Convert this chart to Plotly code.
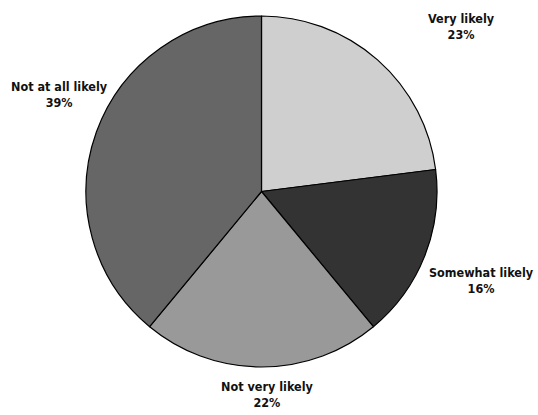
import plotly.graph_objects as go

# Survey responses (share of respondents)
categories = ["Very likely", "Somewhat likely", "Not very likely", "Not at all likely"]
shares = [23, 16, 22, 39]
slice_colors = ["#cfcfcf", "#333333", "#999999", "#666666"]

W, H = 538, 415
cx, cy, r = 261.5, 191.5, 175.5

# Label anchor points (pixels) placed around the pie
label_xy = [(461, 26), (481, 280), (267, 394), (59, 95)]

fig = go.Figure(go.Pie(
    labels=categories,
    values=shares,
    sort=False,
    direction="clockwise",
    rotation=0,
    marker=dict(colors=slice_colors, line=dict(color="#000000", width=1.2)),
    textinfo="none",
    hoverinfo="label+percent",
    showlegend=False,
    domain=dict(x=[(cx - r) / W, (cx + r) / W], y=[1 - (cy + r) / H, 1 - (cy - r) / H]),
))

for name, val, (lx, ly) in zip(categories, shares, label_xy):
    fig.add_annotation(
        x=lx / W, y=1 - ly / H, xref="paper", yref="paper",
        text=f"<b>{name}<br>{val}%</b>", showarrow=False,
        font=dict(family="DejaVu Sans Condensed, Liberation Sans Narrow, sans-serif",
                  size=12.5, color="#111111"),
        align="center", xanchor="center", yanchor="middle",
    )

fig.update_layout(
    width=W, height=H,
    margin=dict(l=0, r=0, t=0, b=0),
    paper_bgcolor="white", plot_bgcolor="white",
)

fig.write_html("out.html")
